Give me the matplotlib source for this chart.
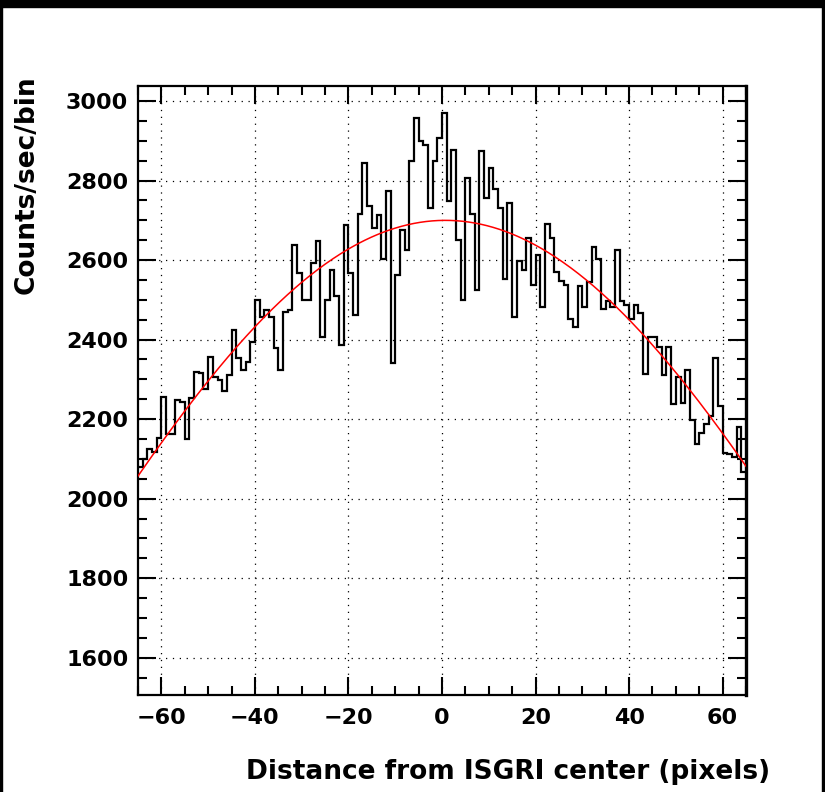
"""Counts per bin vs distance from the ISGRI centre, with a Gaussian fit."""
import numpy as np
import matplotlib
matplotlib.use("Agg")
import matplotlib.pyplot as plt
from matplotlib.patches import Rectangle
from matplotlib.ticker import MultipleLocator

# histogram: 130 bins of width 1 between -65 and 65
bin_edges = np.arange(-65, 66)
counts = [
    2080, 2100, 2125, 2118, 2153, 2256, 2163, 2163, 2247, 2244,   # -65..-56
    2150, 2252, 2319, 2315, 2276, 2357, 2306, 2298, 2272, 2311,   # -55..-46
    2425, 2354, 2323, 2344, 2395, 2500, 2457, 2474, 2457, 2378,   # -45..-36
    2323, 2470, 2474, 2638, 2567, 2500, 2500, 2592, 2648, 2407,   # -35..-26
    2500, 2576, 2509, 2386, 2688, 2567, 2462, 2717, 2845, 2735,   # -25..-16
    2680, 2713, 2603, 2773, 2340, 2563, 2675, 2625, 2849, 2957,   # -15..-6
    2899, 2890, 2730, 2850, 2907, 2971, 2748, 2878, 2650, 2500,   # -5..4
    2806, 2717, 2525, 2874, 2755, 2831, 2780, 2731, 2553, 2743,   # 5..14
    2457, 2598, 2575, 2656, 2537, 2613, 2483, 2692, 2655, 2571,   # 15..24
    2548, 2537, 2451, 2432, 2535, 2483, 2546, 2634, 2604, 2478,   # 25..34
    2497, 2482, 2625, 2497, 2487, 2452, 2487, 2466, 2314, 2406,   # 35..44
    2406, 2382, 2310, 2381, 2239, 2307, 2241, 2323, 2197, 2137,   # 45..54
    2166, 2187, 2208, 2353, 2234, 2114, 2112, 2105, 2180, 2068,   # 55..64
]

# gaussian fit parameters (amplitude, mean, sigma)
fit_amp = 2700.0
fit_mean = 0.73
fit_sigma = 89.1

x_ticks = [-60, -40, -20, 0, 20, 40, 60]
x_label = "Distance from ISGRI center (pixels)"
y_label = "Counts/sec/bin"

plt.rcParams["font.family"] = ["DejaVu Sans"]
plt.rcParams["font.weight"] = "bold"

W, H = 825, 792
fig = plt.figure(figsize=(W / 100, H / 100), dpi=100)
ax = fig.add_axes([138 / W, 97 / H, 608 / W, 609 / H])

ax.stairs(counts, bin_edges, baseline=None, color="black", lw=1.6, zorder=3)

xf = np.linspace(-65, 65, 400)
yf = fit_amp * np.exp(-0.5 * ((xf - fit_mean) / fit_sigma) ** 2)
ax.plot(xf, yf, color="red", lw=1.1, zorder=4)

ax.set_xlim(-65, 65)
ax.set_ylim(1506, 3038)
ax.xaxis.set_major_locator(MultipleLocator(20))
ax.xaxis.set_minor_locator(MultipleLocator(5))
ax.yaxis.set_major_locator(MultipleLocator(200))
ax.yaxis.set_minor_locator(MultipleLocator(50))
ax.set_xticks(x_ticks)

ax.grid(True, which="major", color="black", lw=0.9, linestyle=(0, (1, 4.5)))
ax.tick_params(which="both", direction="in", top=True, right=True,
               width=1.5, labelsize=16, color="black")
ax.tick_params(which="major", length=13)
ax.tick_params(which="minor", length=6.5)
ax.tick_params(axis="x", which="major", pad=9)
ax.tick_params(axis="y", which="major", pad=7)
for lab in ax.get_xticklabels() + ax.get_yticklabels():
    lab.set_fontweight("bold")
for sp in ax.spines.values():
    sp.set_linewidth(1.6)
ax.spines["right"].set_linewidth(2.4)

fig.text(27 / W, 1 - 75 / H, y_label, rotation=90, ha="center", va="top",
         fontsize=19, fontweight="bold")
fig.text(770 / W, 1 - 772 / H, x_label, ha="right", va="center",
         fontsize=19, fontweight="bold")

# black frame around the canvas
for r in [(0, 1 - 7 / H, 1, 7 / H), (0, 0, 2 / W, 1), (822 / W, 0, 3 / W, 1)]:
    fig.patches.append(Rectangle(r[:2], r[2], r[3], transform=fig.transFigure,
                                 color="black", zorder=10))

fig.savefig("out.png", dpi=100)
